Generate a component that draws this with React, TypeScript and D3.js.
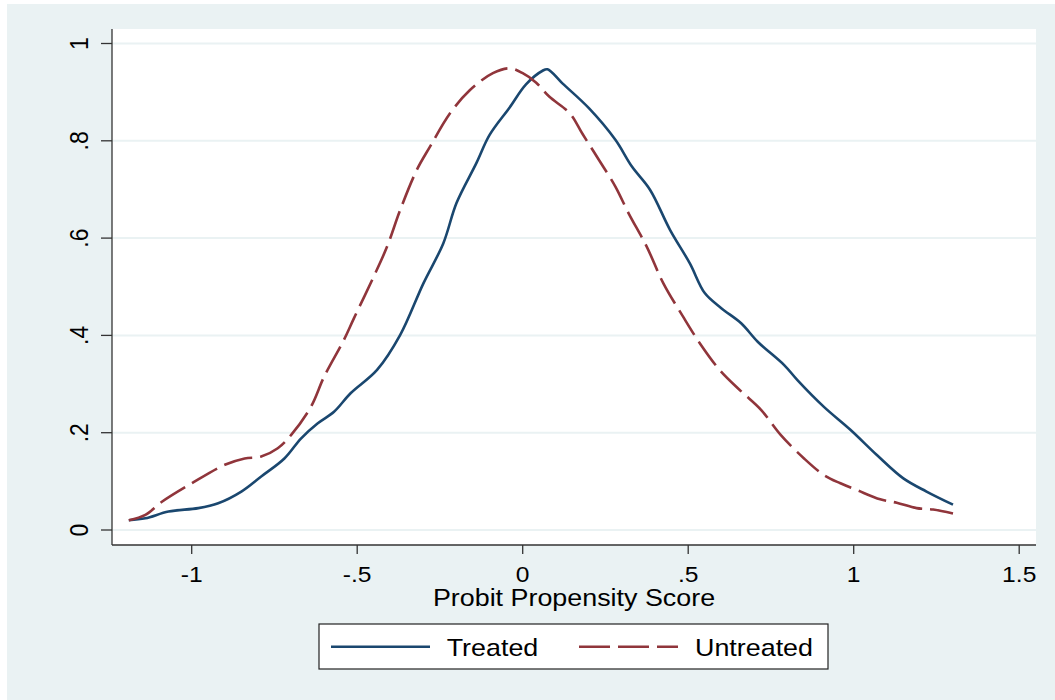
import React from 'react';
import * as d3 from 'd3';

// kernel density of the probit propensity score
const treatedX = [-1.19, -1.14, -1.07, -0.98, -0.92, -0.85, -0.79, -0.72, -0.67, -0.62, -0.57, -0.52, -0.44, -0.37, -0.30, -0.24, -0.20, -0.14, -0.10, -0.04, 0.01, 0.06, 0.075, 0.12, 0.20, 0.28, 0.33, 0.385, 0.445, 0.505, 0.55, 0.60, 0.66, 0.71, 0.79, 0.83, 0.91, 0.99, 1.07, 1.15, 1.22, 1.30];
const treatedY = [0.020, 0.024, 0.038, 0.045, 0.055, 0.079, 0.110, 0.147, 0.188, 0.219, 0.243, 0.281, 0.329, 0.401, 0.507, 0.589, 0.672, 0.754, 0.812, 0.868, 0.916, 0.944, 0.947, 0.918, 0.867, 0.802, 0.747, 0.699, 0.617, 0.548, 0.487, 0.456, 0.425, 0.387, 0.339, 0.308, 0.253, 0.206, 0.154, 0.106, 0.079, 0.052];

const untreatedX = [-1.19, -1.14, -1.09, -1.00, -0.90, -0.84, -0.79, -0.74, -0.70, -0.64, -0.60, -0.54, -0.51, -0.45, -0.41, -0.37, -0.32, -0.28, -0.22, -0.16, -0.09, -0.04, 0.00, 0.04, 0.08, 0.143, 0.18, 0.23, 0.28, 0.32, 0.375, 0.425, 0.485, 0.535, 0.595, 0.66, 0.72, 0.78, 0.85, 0.91, 0.96, 1.01, 1.08, 1.13, 1.19, 1.24, 1.30];
const untreatedY = [0.020, 0.031, 0.058, 0.096, 0.134, 0.147, 0.151, 0.168, 0.195, 0.253, 0.315, 0.391, 0.435, 0.521, 0.582, 0.658, 0.740, 0.788, 0.856, 0.904, 0.939, 0.949, 0.939, 0.920, 0.891, 0.856, 0.815, 0.761, 0.706, 0.651, 0.582, 0.507, 0.438, 0.384, 0.329, 0.285, 0.247, 0.195, 0.147, 0.113, 0.096, 0.082, 0.063, 0.056, 0.045, 0.042, 0.034];

const xTicks = [-1, -0.5, 0, 0.5, 1, 1.5];
const xTickLabels = ['-1', '-.5', '0', '.5', '1', '1.5'];
const yTicks = [0, 0.2, 0.4, 0.6, 0.8, 1];
const yTickLabels = ['0', '.2', '.4', '.6', '.8', '1'];

const seriesNames = ['Treated', 'Untreated'];

const W = 1055;
const H = 700;
const plot = { left: 112, right: 1036, top: 29, bottom: 545 };
const BG = '#eaf2f3';
const NAVY = '#1a476f';
const MAROON = '#90353b';
const FONT = '"Liberation Sans", Arial, sans-serif';
const STRETCH = 1.12; // the picture is wider than the original graph

const App = () => {
  const x = d3.scaleLinear().domain([-1, 1.5]).range([191.7, 1019.2]);
  const y = d3.scaleLinear().domain([0, 1]).range([530, 43.5]);

  const line = d3.line<[number, number]>()
    .x(d => x(d[0]))
    .y(d => y(d[1]))
    .curve(d3.curveCatmullRom.alpha(0.5));

  const treated = line(treatedX.map((v, i) => [v, treatedY[i]]));
  const untreated = line(untreatedX.map((v, i) => [v, untreatedY[i]]));

  const dash = '29 8';

  return (
    <svg width={W} height={H} style={{ position: 'absolute', left: 0, top: 0 }} fontFamily={FONT}>
      <rect x={0} y={0} width={W} height={H} fill="#ffffff" />
      <rect x={7} y={4} width={W - 7} height={H - 4} fill={BG} />
      <rect x={plot.left} y={plot.top} width={plot.right - plot.left} height={plot.bottom - plot.top} fill="#ffffff" />

      {/* grid */}
      {yTicks.map(t => (
        <line key={'g' + t} x1={plot.left} x2={plot.right} y1={y(t)} y2={y(t)} stroke={BG} strokeWidth={2} />
      ))}

      {/* curves */}
      <path d={treated || ''} fill="none" stroke={NAVY} strokeWidth={2.6} strokeLinejoin="round" />
      <path d={untreated || ''} fill="none" stroke={MAROON} strokeWidth={2.6} strokeDasharray={dash} />

      {/* axes */}
      <line x1={plot.left} x2={plot.left} y1={plot.top} y2={plot.bottom} stroke="#333" strokeWidth={1.3} />
      <line x1={plot.left} x2={plot.right} y1={plot.bottom} y2={plot.bottom} stroke="#333" strokeWidth={1.3} />

      {yTicks.map((t, i) => (
        <g key={'y' + t}>
          <line x1={plot.left - 11} x2={plot.left} y1={y(t)} y2={y(t)} stroke="#333" strokeWidth={1.3} />
          <text
            transform={`translate(88,${y(t)}) scale(${STRETCH},1) rotate(-90)`}
            textAnchor="middle"
            fontSize={23}
            fill="#000"
          >{yTickLabels[i]}</text>
        </g>
      ))}

      {xTicks.map((t, i) => (
        <g key={'x' + t}>
          <line x1={x(t)} x2={x(t)} y1={plot.bottom} y2={plot.bottom + 9} stroke="#333" strokeWidth={1.3} />
          <text
            transform={`translate(${x(t)},582) scale(${STRETCH},1)`}
            textAnchor="middle"
            fontSize={22}
            fill="#000"
          >{xTickLabels[i]}</text>
        </g>
      ))}

      <text
        transform={`translate(${(plot.left + plot.right) / 2},606) scale(${STRETCH},1)`}
        textAnchor="middle"
        fontSize={24}
        fill="#000"
      >Probit Propensity Score</text>

      {/* legend */}
      <rect x={319} y={624} width={509} height={45} fill="#ffffff" stroke="#222" strokeWidth={1.2} />
      <line x1={331} x2={430} y1={646.7} y2={646.7} stroke={NAVY} strokeWidth={2.6} />
      <text transform={`translate(446.7,656) scale(${STRETCH},1)`} fontSize={24} fill="#000">{seriesNames[0]}</text>
      <line x1={579} x2={678} y1={646.7} y2={646.7} stroke={MAROON} strokeWidth={2.6} strokeDasharray="31 8" />
      <text transform={`translate(695,656) scale(${STRETCH},1)`} fontSize={24} fill="#000">{seriesNames[1]}</text>
    </svg>
  );
};

export default App;
